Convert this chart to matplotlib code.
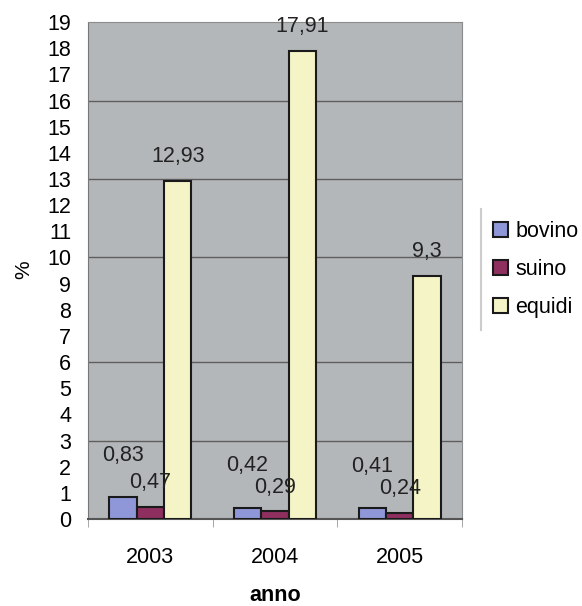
import matplotlib
matplotlib.use("Agg")
import matplotlib.pyplot as plt
import numpy as np
from matplotlib.lines import Line2D

# dati
anni = ["2003", "2004", "2005"]
serie = ["bovino", "suino", "equidi"]
bovino = [0.83, 0.42, 0.41]
suino = [0.47, 0.29, 0.24]
equidi = [12.93, 17.91, 9.3]
colori = ["#9097d8", "#8e2f60", "#f4f4c6"]
griglia = [3, 6, 10, 13, 16]

plt.rcParams['font.family'] = ['Liberation Sans', 'DejaVu Sans']

fig = plt.figure(figsize=(5.82, 6.06), dpi=100)
ax = fig.add_axes([0.1512, 0.1436, 0.6426, 0.820])
ax.set_facecolor("#b4b7b9")

x = np.arange(len(anni))
w = 0.22
valori = [bovino, suino, equidi]
offs_lab = [42, 24, 24]
for i, (nome, val) in enumerate(zip(serie, valori)):
  xs = x + (i - 1) * w
  ax.bar(xs, val, w, color=colori[i], edgecolor="#1a1a1a", linewidth=1.5, label=nome, zorder=3)
  for xx, v in zip(xs, val):
    ax.annotate(str(v).replace(".", ","), (xx, v), xytext=(0, offs_lab[i]),
                textcoords="offset pixels", ha="center", va="center", fontsize=15.5, color="#222222", zorder=4)

ax.set_xlim(-0.5, 2.5)
ax.set_ylim(0, 19)
ax.set_yticks(range(0, 20))
ax.tick_params(axis="y", length=0, labelsize=15.5, pad=12)
ax.set_yticks(griglia, minor=True)
ax.tick_params(axis="y", which="minor", length=6, color="#555555")
for g in griglia:
  ax.axhline(g, color="#5e5e5e", linewidth=1, zorder=1)

ax.set_xticks(x)
ax.set_xticklabels(anni, fontsize=15.5)
ax.set_xticks([-0.5, 0.5, 1.5, 2.5], minor=True)
ax.tick_params(axis="x", which="major", length=0, pad=20)
ax.tick_params(axis="x", which="minor", length=6, color="#999999")

for s in ["top", "right"]:
  ax.spines[s].set_color("#8c8c8c")
ax.spines["left"].set_color("#777777")
ax.spines["bottom"].set_color("#555555")
ax.spines["bottom"].set_linewidth(1.5)

fig.text(0.040, 0.555, "%", rotation=90, fontsize=15, ha="center", va="center")
fig.text(0.473, 0.018, "anno", fontsize=15.5, fontweight="bold", ha="center", va="center")

leg = fig.legend(loc="center left", bbox_to_anchor=(0.832, 0.555), frameon=False, fontsize=15.5,
                 handlelength=0.7, handleheight=0.7, handletextpad=0.35, labelspacing=0.78, borderaxespad=0)
fig.add_artist(Line2D([0.826, 0.826], [0.455, 0.655], color="#cccccc", linewidth=1.5, transform=fig.transFigure))

fig.savefig("out.png", dpi=100)
